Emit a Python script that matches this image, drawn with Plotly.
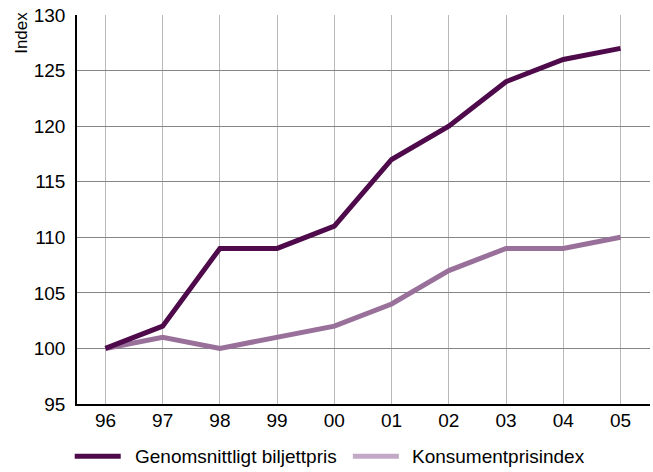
import plotly.graph_objects as go

years = ["96", "97", "98", "99", "00", "01", "02", "03", "04", "05"]
biljettpris = [100, 102, 109, 109, 111, 117, 120, 124, 126, 127]
kpi = [100, 101, 100, 101, 102, 104, 107, 109, 109, 110]
y_ticks = [95, 100, 105, 110, 115, 120, 125, 130]
series_names = ["Genomsnittligt biljettpris", "Konsumentprisindex"]

dark = "#4e0a4b"
mid = "#98709a"
light = "#c2a9c6"
font = "Liberation Sans, Arial, Helvetica, sans-serif"

xs = list(range(len(years)))
fig = go.Figure()
fig.add_trace(go.Scatter(x=xs, y=kpi, mode="lines", line=dict(color=mid, width=5),
                         name=series_names[1], showlegend=False, hoverinfo="skip"))
fig.add_trace(go.Scatter(x=xs, y=biljettpris, mode="lines", line=dict(color=dark, width=5),
                         name=series_names[0], showlegend=False, hoverinfo="skip"))

# manual legend (keeps plot margins fixed)
leg_y = -0.134
legend_items = [(series_names[0], dark, -0.004, 0.0763, 0.097),
                (series_names[1], light, 0.4814, 0.5617, 0.582)]
shapes = []
annotations = []
for name, col, x0, x1, xt in legend_items:
    shapes.append(dict(type="line", xref="paper", yref="paper", x0=x0, x1=x1, y0=leg_y, y1=leg_y,
                       line=dict(color=col, width=5)))
    annotations.append(dict(text=name, xref="paper", yref="paper", x=xt, y=leg_y,
                            xanchor="left", yanchor="middle", showarrow=False,
                            font=dict(size=19)))
annotations.append(dict(text="Index", textangle=-90, xref="paper", yref="paper",
                        x=-0.098, y=1.0, xanchor="center", yanchor="top", yshift=5,
                        showarrow=False, font=dict(size=17)))

fig.update_layout(
    width=653, height=472,
    margin=dict(l=77, r=3, t=15, b=68),
    plot_bgcolor="white", paper_bgcolor="white",
    font=dict(family=font, size=19, color="black"),
    showlegend=False,
    xaxis=dict(range=[-0.497, 9.516], tickmode="array", tickvals=xs, ticktext=years,
               showgrid=True, gridcolor="#b8b8b8", gridwidth=1.3,
               showline=True, linecolor="black", linewidth=1.5,
               ticks="", zeroline=False, ticklabelstandoff=-2, automargin=False),
    yaxis=dict(range=[95, 130], tickvals=y_ticks,
               showgrid=True, gridcolor="#858585", gridwidth=1.3,
               showline=True, linecolor="black", linewidth=1.5,
               ticks="", zeroline=False, ticklabelstandoff=6, automargin=False),
    shapes=shapes,
    annotations=annotations,
)
fig.write_html("out.html", config={"displayModeBar": False},
               post_script="document.body.style.margin='0';")
